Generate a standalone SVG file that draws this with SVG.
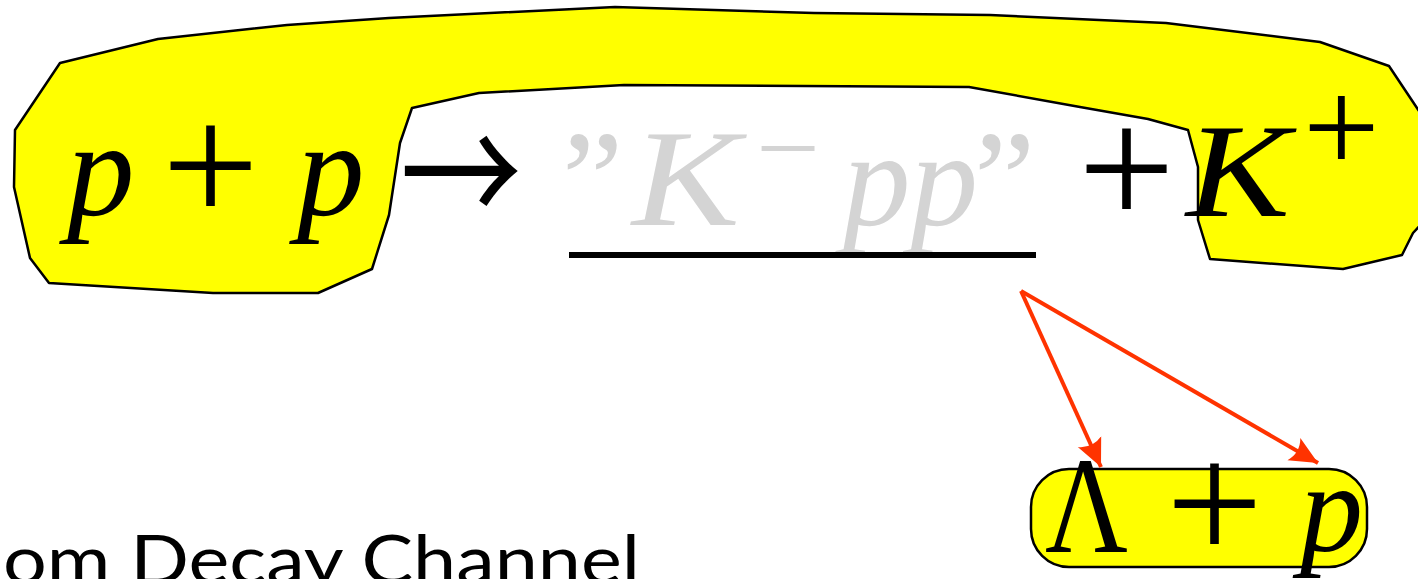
<svg xmlns="http://www.w3.org/2000/svg" width="1418" height="579" viewBox="0 0 1418 579">
<style>
.m{font-family:"Liberation Serif",serif;font-style:italic;fill:#000}
.r{font-family:"Liberation Serif",serif;fill:#000}
.g{fill:#d4d4d4}
.hl{fill:#ffff00;stroke:#000;stroke-width:2.5;stroke-linejoin:round}
.arr{stroke:#ff3300;stroke-width:4;fill:none}
.sans{font-family:Lato,"Open Sans",sans-serif;fill:#000}
</style>
<defs>
<marker id="ah" markerUnits="userSpaceOnUse" markerWidth="30" markerHeight="30" viewBox="0 -14 28 28" refX="26" refY="0" orient="auto">
<path d="M26,0 L0,-12 Q7,0 0,12 Z" fill="#ff3300"/>
</marker>
</defs>
<g id="highlight">
<path class="hl" d="M49,283 L30,258 L14,187 L15,130 L60,63 L158,39 L287,25 L389,18 L615,7 L814,13 L990,15 L1166,23 L1320,42 L1389,66 L1413,102 L1425,120 L1425,220 L1413,233 L1402,255 L1343,269 L1210,259 L1198,220 L1198,167 L1188,130 L1148,119 L1080,107 L969,87 L624,85 L479,93 L412,108 L400,143 L389,215 L372,269 L318,293 L213,293 Z"/>
</g>
<g id="equation">
<text class="m" x="67" y="215" font-size="135">p</text>
<text class="r" x="162" y="223" font-size="172">+</text>
<text class="m" x="297" y="215" font-size="135">p</text>
<text x="400" y="228" font-size="150" font-family="Noto Sans CJK JP,sans-serif" textLength="122" lengthAdjust="spacingAndGlyphs">→</text>
<text class="r g" x="562" y="226" font-size="138">”</text>
<text class="m g" x="632" y="225" font-size="138" textLength="108" lengthAdjust="spacingAndGlyphs">K</text>
<text class="r g" x="756" y="182" font-size="100" textLength="64" lengthAdjust="spacingAndGlyphs">−</text>
<text class="m g" x="843" y="225" font-size="135">pp</text>
<text class="r g" x="974" y="226" font-size="138">”</text>
<rect x="569" y="252" width="467" height="6" fill="#000"/>
<text class="r" x="1078" y="226" font-size="172">+</text>
<text class="m" x="1186" y="216" font-size="134" textLength="104" lengthAdjust="spacingAndGlyphs">K</text>
<text class="r" x="1303" y="173" font-size="136">+</text>
</g>
<g id="products">
<rect class="hl" x="1031" y="469" width="336" height="98" rx="38" ry="38"/>
<text class="r" x="1045" y="552" font-size="138" textLength="83" lengthAdjust="spacingAndGlyphs">Λ</text>
<text class="r" x="1166" y="561" font-size="172">+</text>
<text class="m" x="1300" y="551" font-size="126">p</text>
</g>
<g id="connectors">
<line class="arr" x1="1021" y1="291" x2="1101" y2="467" marker-end="url(#ah)"/>
<line class="arr" x1="1021" y1="291" x2="1318" y2="463" marker-end="url(#ah)"/>
</g>
<text class="sans" x="3" y="584" font-size="68" textLength="637" lengthAdjust="spacingAndGlyphs">om Decay Channel</text>
</svg>
